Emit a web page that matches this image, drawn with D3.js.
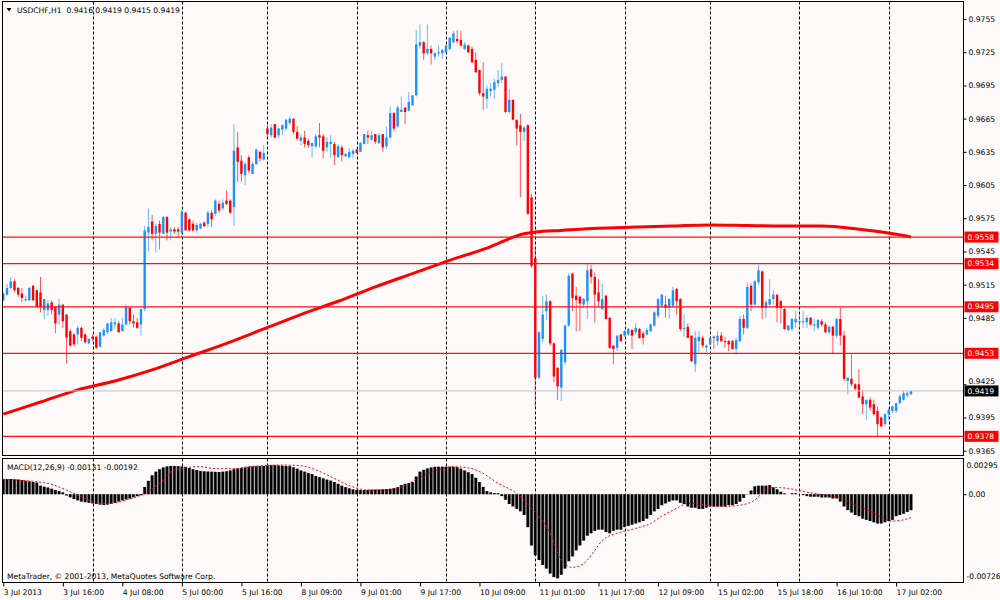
<!DOCTYPE html>
<html><head><meta charset="utf-8">
<script src="https://cdn.jsdelivr.net/npm/d3@7"></script>
<style>
html,body{margin:0;padding:0;background:#fffafa;}
svg{display:block;font-family:"DejaVu Sans",sans-serif;}
</style></head><body>
<svg id="c" width="1000" height="600"></svg>
<script>
// ---------- DATA ----------
const symbolTitle = "USDCHF,H1";
const lastQuote = ["0.9416","0.9419","0.9415","0.9419"];
const macdTitle = "MACD(12,26,9) -0.00131 -0.00192";
const copyright = "MetaTrader, \u00A9 2001-2013, MetaQuotes Software Corp.";

// hourly OHLC, in units of 0.0001
const open = [
9501,9506,9512,9518,9512,9507,9501,9501,9514,9510,
9508,9492,9492,9499,9495,9488,9497,9488,9473,9470,
9470,9476,9470,9462,9468,9468,9459,9469,9472,9473,
9479,9480,9473,9479,9494,9482,9481,9479,9493,9562,
9572,9561,9570,9561,9576,9563,9565,9565,9562,9580,
9574,9570,9564,9566,9571,9570,9580,9579,9588,9584,
9591,9591,9585,9639,9627,9614,9630,9615,9624,9635,
9628,9656,9650,9660,9650,9655,9656,9661,9665,9653,
9645,9648,9645,9640,9640,9650,9649,9639,9642,9642,
9630,9639,9631,9630,9633,9637,9635,9642,9650,9646,
9651,9643,9651,9640,9648,9670,9658,9671,9675,9672,
9677,9686,9731,9734,9724,9728,9721,9724,9724,9725,
9728,9734,9737,9736,9728,9731,9728,9718,9709,9688,
9683,9690,9691,9697,9700,9703,9671,9682,9664,9659,
9653,9659,9594,9539,9431,9466,9491,9500,9462,9440,
9422,9445,9478,9525,9505,9504,9497,9500,9529,9522,
9508,9493,9505,9485,9460,9458,9470,9469,9470,9474,
9472,9475,9471,9470,9473,9478,9487,9496,9497,9494,
9496,9511,9502,9475,9477,9469,9443,9464,9467,9458,
9461,9468,9464,9469,9464,9464,9464,9457,9464,9484,
9476,9514,9497,9517,9527,9494,9497,9502,9506,9500,
9493,9474,9475,9481,9481,9481,9481,9485,9478,9476,
9482,9479,9472,9477,9469,9484,9469,9428,9430,9425,
9425,9414,9407,9411,9407,9401,9395,9389,9398,9401,
9401,9408,9411,9415,9416];
const high = [
9508,9516,9522,9520,9513,9512,9505,9513,9515,9510,
9522,9502,9501,9501,9495,9502,9497,9488,9475,9471,
9478,9477,9471,9466,9470,9469,9472,9476,9480,9485,
9485,9482,9485,9497,9495,9488,9485,9493,9568,9584,
9578,9570,9573,9577,9577,9567,9567,9567,9583,9581,
9575,9573,9571,9571,9572,9582,9582,9592,9591,9592,
9600,9592,9660,9653,9632,9626,9632,9626,9638,9636,
9641,9659,9660,9660,9657,9660,9665,9667,9665,9658,
9651,9654,9647,9643,9651,9661,9651,9648,9650,9644,
9642,9641,9634,9638,9638,9638,9644,9651,9654,9654,
9651,9652,9651,9658,9676,9671,9677,9685,9675,9689,
9686,9745,9750,9735,9750,9731,9725,9731,9728,9732,
9739,9744,9745,9744,9734,9732,9730,9725,9709,9716,
9695,9697,9701,9709,9715,9703,9692,9682,9664,9669,
9658,9660,9597,9549,9473,9505,9506,9501,9463,9440,
9457,9479,9525,9526,9513,9505,9503,9534,9533,9526,
9520,9516,9506,9486,9460,9469,9470,9474,9476,9475,
9480,9476,9473,9476,9480,9491,9503,9507,9505,9503,
9513,9512,9503,9488,9480,9469,9473,9473,9469,9461,
9468,9469,9473,9472,9468,9465,9465,9467,9487,9488,
9517,9516,9519,9533,9528,9501,9520,9510,9506,9501,
9494,9479,9485,9491,9488,9491,9487,9486,9484,9484,
9484,9481,9478,9478,9485,9494,9473,9431,9452,9426,
9439,9420,9411,9413,9411,9405,9396,9399,9404,9406,
9408,9416,9419,9419,9419];
const low = [
9500,9505,9511,9508,9504,9499,9500,9500,9500,9495,
9490,9484,9487,9488,9471,9479,9476,9444,9459,9459,
9461,9464,9462,9461,9464,9457,9458,9468,9470,9473,
9475,9472,9473,9478,9479,9476,9475,9469,9491,9545,
9555,9544,9547,9561,9555,9555,9561,9558,9558,9564,
9563,9563,9562,9565,9567,9567,9567,9577,9580,9582,
9587,9579,9568,9608,9608,9605,9616,9615,9623,9626,
9627,9647,9648,9647,9647,9650,9654,9659,9651,9645,
9641,9639,9639,9630,9638,9639,9629,9635,9630,9623,
9630,9626,9630,9630,9629,9634,9635,9642,9642,9645,
9642,9642,9635,9638,9647,9654,9657,9671,9660,9672,
9677,9685,9728,9718,9722,9714,9718,9721,9719,9724,
9727,9733,9733,9730,9727,9724,9715,9706,9686,9673,
9674,9685,9683,9694,9697,9670,9670,9664,9641,9594,
9645,9578,9530,9404,9430,9463,9483,9460,9427,9411,
9410,9443,9477,9491,9473,9473,9494,9484,9516,9481,
9495,9492,9484,9457,9443,9455,9463,9468,9469,9457,
9470,9466,9461,9469,9472,9477,9485,9494,9485,9484,
9494,9488,9473,9468,9467,9445,9436,9454,9458,9454,
9460,9457,9460,9463,9458,9455,9456,9452,9463,9470,
9475,9491,9496,9515,9484,9485,9496,9497,9481,9480,
9474,9473,9473,9476,9476,9476,9476,9478,9473,9474,
9477,9471,9470,9453,9467,9460,9428,9416,9423,9419,
9413,9398,9393,9401,9397,9378,9386,9387,9393,9399,
9399,9407,9410,9413,9415];
const close = [
9507,9512,9518,9510,9506,9503,9502,9512,9501,9495,
9495,9502,9498,9492,9480,9497,9482,9467,9460,9461,
9476,9467,9463,9466,9466,9458,9472,9474,9480,9481,
9481,9472,9479,9495,9482,9480,9476,9493,9564,9567,
9561,9568,9562,9576,9562,9565,9563,9563,9581,9564,
9564,9564,9569,9570,9568,9580,9574,9591,9582,9589,
9588,9580,9636,9626,9615,9624,9618,9624,9637,9629,
9634,9651,9657,9648,9656,9659,9664,9665,9653,9647,
9648,9642,9641,9643,9649,9648,9636,9644,9644,9632,
9640,9632,9633,9635,9636,9634,9643,9651,9648,9650,
9644,9650,9639,9648,9670,9656,9675,9673,9671,9680,
9686,9732,9734,9724,9728,9724,9724,9725,9727,9731,
9738,9742,9735,9731,9732,9725,9716,9707,9688,9685,
9692,9692,9698,9700,9703,9671,9682,9664,9656,9653,
9657,9579,9532,9431,9472,9488,9500,9462,9432,9423,
9456,9478,9523,9503,9501,9498,9502,9528,9522,9506,
9500,9502,9484,9458,9457,9469,9464,9473,9475,9469,
9476,9467,9467,9474,9479,9490,9502,9506,9494,9502,
9510,9500,9475,9476,9467,9446,9467,9468,9460,9460,
9467,9467,9469,9464,9463,9461,9457,9465,9484,9476,
9513,9497,9518,9528,9494,9499,9502,9506,9494,9494,
9475,9478,9484,9484,9482,9482,9485,9479,9479,9483,
9479,9472,9477,9469,9484,9469,9430,9431,9425,9421,
9413,9407,9411,9404,9398,9389,9387,9398,9402,9405,
9408,9414,9417,9417,9419];

// moving average (red thick line), sampled at bar indices, units 0.0001
const maIdx = [0,10,20,30,40,50,60,70,80,90,100,110,120,130,140,143,150,160,170,180,190,200,210,220,230,240,244];
const maVal = [9398,9409,9420,9428,9438,9450,9462,9475,9488,9500,9513,9525,9537,9548,9561,9562.5,9564,9566,9567,9568,9569,9568.5,9568,9568,9565,9560.5,9558];

// MACD histogram per bar, units 0.00001
const macdHist = [
122,124,125,122,120,115,110,105,100,95,
70,62,55,45,35,25,15,-10,-25,-40,
-50,-60,-65,-70,-75,-80,-85,-88,-85,-78,
-70,-60,-50,-42,-35,-25,-15,-8,60,110,
155,185,205,220,228,232,232,230,228,225,
215,205,198,192,188,186,185,184,182,185,
188,195,205,212,215,220,225,228,230,230,
232,236,238,238,236,234,232,230,220,210,
195,185,175,165,150,140,130,120,112,100,
85,70,58,48,40,36,35,35,36,37,
38,38,40,42,45,50,58,75,85,92,
100,145,185,200,212,220,225,226,226,226,
226,225,222,210,195,180,165,135,100,60,
25,15,10,8,-15,-45,-80,-100,-120,-140,
-170,-270,-420,-500,-540,-580,-610,-650,-680,-690,
-660,-610,-550,-510,-460,-420,-380,-340,-320,-300,
-290,-290,-310,-320,-300,-290,-290,-270,-260,-250,
-240,-230,-220,-200,-170,-140,-120,-90,-75,-60,
-50,-50,-70,-80,-100,-110,-110,-120,-120,-110,
-100,-100,-100,-100,-100,-90,-90,-80,-60,-30,
2,30,65,70,70,70,75,56,40,20,
7,0,7,7,0,-7,-15,-20,-20,-20,
-26,-26,-26,-34,-34,-60,-100,-130,-150,-170,
-180,-200,-210,-220,-230,-240,-240,-230,-220,-210,
-180,-170,-160,-145,-131];
// MACD signal line, sampled at bar indices, units 0.00001
const sigIdx = [0,12,17,21,26,30,33,37,42,46,53,57,62,66,75,80,84,89,94,98,102,107,112,118,121,126,129,133,138,142,147,150,153,156,159,161,166,170,174,177,181,184,187,191,194,198,202,204,207,211,214,218,221,225,228,233,237,239,242,244];
const sigVal = [122,89,34,-20,-75,-70,-48,-7,90,200,226,210,210,226,240,234,200,130,60,34,34,60,140,210,226,210,170,90,7,-116,-320,-540,-600,-570,-460,-380,-310,-280,-240,-180,-116,-75,-80,-100,-100,-90,-48,13,56,48,29,7,-7,-34,-75,-140,-200,-220,-210,-192];

const xTickIdx = [0,16,32,48,64,80,96,112,128,144,160,176,192,208,224,240];
const xTickLabels = ["3 Jul 2013","3 Jul 16:00","4 Jul 08:00","5 Jul 00:00","5 Jul 16:00","8 Jul 09:00","9 Jul 01:00","9 Jul 17:00","10 Jul 09:00","11 Jul 01:00","11 Jul 17:00","12 Jul 09:00","15 Jul 02:00","15 Jul 18:00","16 Jul 10:00","17 Jul 02:00"];
const daySepIdx = [24,48,71,95,119,143,167,190,214,238];
// 0.9455 is fully covered by the 0.9453 tag in the reference, so it is not listed
const priceTicks = [0.9755,0.9725,0.9695,0.9665,0.9635,0.9605,0.9575,0.9545,0.9515,0.9485,0.9425,0.9395,0.9365];
const levels = [0.9558,0.9534,0.9495,0.9453,0.9378];
const bidLevel = 0.9419;
const macdMax = 0.00295, macdMin = -0.00726;

// ---------- DRAW ----------
const P = v => v / 10000, M = v => v / 100000;
const BG = "#fffafa", BULL = "#1e90ff", BEAR = "#ff0000", FS = 7.6;
const svg = d3.select("#c");
svg.append("rect").attr("width", 1000).attr("height", 600).attr("fill", BG);

const L = 2.5, R = 963.5, mainTop = 1.5, mainBot = 455.5, macdTop = 458.5, macdBot = 582.5;
const x = d3.scaleLinear().domain([0, 244]).range([3.3, 911]);
const y = d3.scaleLinear().domain([0.9365, 0.9755]).range([450.7, 19]);
const ym = d3.scaleLinear().domain([macdMin, macdMax]).range([582.7, 458.3]);

const defs = svg.append("defs");
defs.append("clipPath").attr("id", "cm").append("rect").attr("x", L).attr("y", mainTop).attr("width", R - L).attr("height", mainBot - mainTop);
defs.append("clipPath").attr("id", "cd").append("rect").attr("x", L).attr("y", macdTop).attr("width", R - L).attr("height", macdBot - macdTop);

// day separators
const grid = svg.append("g").attr("stroke", "#000").attr("stroke-width", 1).attr("stroke-dasharray", "3,2");
daySepIdx.forEach(i => {
  const gx = Math.round(x(i)) + 0.5;
  grid.append("line").attr("x1", gx).attr("x2", gx).attr("y1", mainTop).attr("y2", mainBot);
  grid.append("line").attr("x1", gx).attr("x2", gx).attr("y1", macdTop).attr("y2", macdBot);
});

// candles
const gm = svg.append("g").attr("clip-path", "url(#cm)");
const idx = d3.range(open.length);
gm.selectAll("line.w").data(idx).join("line").attr("class", "w")
  .attr("x1", i => x(i)).attr("x2", i => x(i))
  .attr("y1", i => y(P(high[i]))).attr("y2", i => y(P(low[i])))
  .attr("stroke", i => close[i] >= open[i] ? BULL : BEAR).attr("stroke-width", 1).attr("stroke-opacity", 0.65);
gm.selectAll("rect.b").data(idx).join("rect").attr("class", "b")
  .attr("x", i => x(i) - 1.2).attr("width", 2.4)
  .attr("y", i => y(P(Math.max(open[i], close[i]))))
  .attr("height", i => Math.max(1, Math.abs(y(P(open[i])) - y(P(close[i])))))
  .attr("fill", i => close[i] >= open[i] ? BULL : BEAR);

// moving average
gm.append("path").datum(d3.range(maIdx.length))
  .attr("d", d3.line().x(k => x(maIdx[k])).y(k => y(P(maVal[k]))).curve(d3.curveMonotoneX))
  .attr("fill", "none").attr("stroke", "#ff0000").attr("stroke-width", 3);

// horizontal levels
levels.forEach(v => {
  svg.append("line").attr("x1", L).attr("x2", R).attr("y1", y(v)).attr("y2", y(v))
    .attr("stroke", "#ff1010").attr("stroke-width", 1.3);
});
svg.append("line").attr("x1", L).attr("x2", R).attr("y1", y(bidLevel)).attr("y2", y(bidLevel))
  .attr("stroke", "#c0c0c0").attr("stroke-width", 1);

// MACD histogram
const gd = svg.append("g").attr("clip-path", "url(#cd)");
gd.selectAll("rect.g").data(idx).join("rect").attr("class", "g")
  .attr("x", i => x(i) - 1.86).attr("width", 3.72)
  .attr("y", i => Math.min(ym(0), ym(M(macdHist[i]))))
  .attr("height", i => Math.abs(ym(0) - ym(M(macdHist[i]))))
  .attr("fill", "#9a9a9a");
gd.selectAll("rect.h").data(idx).join("rect").attr("class", "h")
  .attr("x", i => x(i) - 1.2).attr("width", 2.4)
  .attr("y", i => Math.min(ym(0), ym(M(macdHist[i]))))
  .attr("height", i => Math.abs(ym(0) - ym(M(macdHist[i]))))
  .attr("fill", "#000");
gd.append("path").datum(d3.range(sigIdx.length))
  .attr("d", d3.line().x(k => x(sigIdx[k])).y(k => ym(M(sigVal[k]))).curve(d3.curveMonotoneX))
  .attr("fill", "none").attr("stroke", "#ff0000").attr("stroke-width", 1).attr("stroke-dasharray", "2,2");

// frames
svg.append("rect").attr("x", L).attr("y", mainTop).attr("width", R - L).attr("height", mainBot - mainTop).attr("fill", "none").attr("stroke", "#000");
svg.append("rect").attr("x", L).attr("y", macdTop).attr("width", R - L).attr("height", macdBot - macdTop).attr("fill", "none").attr("stroke", "#000");

// price axis
const ay = svg.append("g").attr("transform", `translate(${R},0)`)
  .call(d3.axisRight(y).tickValues(priceTicks).tickSize(3).tickPadding(2).tickFormat(d3.format(".4f")));
ay.select(".domain").remove();
ay.selectAll("text").attr("font-size", FS).attr("font-family", "DejaVu Sans").attr("fill", "#000")
  .attr("y", d => Math.abs(d - bidLevel) < 0.0008 ? -3 : 0);
ay.selectAll("line").attr("stroke", "#000");

// level labels
function tag(v, fill) {
  const g = svg.append("g");
  g.append("rect").attr("x", 964.5).attr("y", y(v) - 5.5).attr("width", 34).attr("height", 11).attr("fill", fill);
  g.append("text").attr("x", 967.5).attr("y", y(v)).attr("dy", "0.35em").attr("font-size", FS).attr("fill", "#fff").text(d3.format(".4f")(v));
}
levels.forEach(v => tag(v, "#ff0000"));
tag(bidLevel, "#000");

// MACD axis
const am = svg.append("g").attr("transform", `translate(${R},0)`)
  .call(d3.axisRight(ym).tickValues([0]).tickSize(3).tickPadding(2).tickFormat(() => "0.00"));
am.select(".domain").remove();
am.selectAll("text").attr("font-size", FS).attr("font-family", "DejaVu Sans").attr("fill", "#000");
am.selectAll("line").attr("stroke", "#000");
svg.append("text").attr("x", 966.5).attr("y", ym(macdMax) + 7.5).attr("dy", "0.35em").attr("font-size", FS).text(macdMax.toFixed(5));
svg.append("text").attr("x", 966.5).attr("y", ym(macdMin) - 6.5).attr("dy", "0.35em").attr("font-size", FS).text(macdMin.toFixed(5));

// time axis
const ax = svg.append("g").attr("transform", `translate(0,${macdBot})`)
  .call(d3.axisBottom(x).tickValues(xTickIdx).tickSize(4).tickFormat((d, k) => xTickLabels[k]));
ax.select(".domain").remove();
ax.selectAll("line").attr("stroke", "#000");
ax.selectAll("text").attr("font-size", FS).attr("font-family", "DejaVu Sans").attr("fill", "#000")
  .attr("text-anchor", "start").attr("x", 0).attr("y", 7).attr("dy", "0.71em");

// header & captions
svg.append("path").attr("d", "M6.5,8 L11.5,8 L9,11.5 Z").attr("fill", "#000");
svg.append("text").attr("x", 17).attr("y", 10).attr("dy", "0.35em").attr("font-size", FS).attr("xml:space", "preserve")
  .text(symbolTitle + "  " + lastQuote.join(" "));
svg.append("text").attr("x", 7).attr("y", 467).attr("dy", "0.35em").attr("font-size", FS).text(macdTitle);
svg.append("text").attr("x", 7).attr("y", 576.5).attr("dy", "0.35em").attr("font-size", FS).text(copyright);
</script>
</body></html>
